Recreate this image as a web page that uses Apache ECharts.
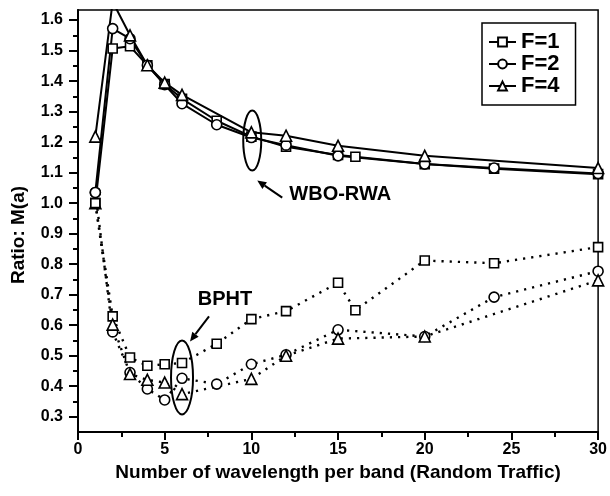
<!DOCTYPE html>
<html lang="en">
  <head>
    <meta charset="UTF-8" />
    <title>Ratio M(a)</title>
    <script src="https://cdn.jsdelivr.net/npm/echarts@6.0.0/dist/echarts.min.js"></script>
    <style>
      html, body { margin: 0; padding: 0; background: #fff; }
    </style>
  </head>
  <body>
    <div id="main" style="width: 610px; height: 496px"></div>

    <script>
      // x positions (wavelengths per band) for each F
      var xF1 = [1, 2, 3, 4, 5, 6, 8, 10, 12, 15, 16, 20, 24, 30]
      var xF2 = [1, 2, 3, 4, 5, 6, 8, 10, 12, 15, 20, 24, 30]
      var xF4 = [1, 2, 3, 4, 5, 6, 10, 12, 15, 20, 30]

      // WBO-RWA (solid)
      var wboF1 = [1.0, 1.507, 1.514, 1.452, 1.39, 1.342, 1.27, 1.218, 1.185, 1.158, 1.152, 1.128, 1.113, 1.095]
      var wboF2 = [1.035, 1.572, 1.539, 1.452, 1.388, 1.326, 1.257, 1.215, 1.19, 1.155, 1.128, 1.115, 1.097]
      var wboF4 = [1.218, 1.66, 1.55, 1.452, 1.395, 1.355, 1.232, 1.221, 1.188, 1.155, 1.115]

      // BPHT (dotted)
      var bphtF1 = [1.0, 0.629, 0.494, 0.467, 0.472, 0.476, 0.539, 0.62, 0.646, 0.739, 0.649, 0.812, 0.803, 0.856]
      var bphtF2 = [1.035, 0.578, 0.445, 0.391, 0.355, 0.426, 0.407, 0.472, 0.503, 0.585, 0.563, 0.692, 0.777]
      var bphtF4 = [1.0, 0.602, 0.44, 0.421, 0.412, 0.374, 0.424, 0.5, 0.556, 0.563, 0.747]

      var legendNames = ["F=1", "F=2", "F=4"]

      var font = "'Liberation Sans', Arial, sans-serif"
      var yMin = 0.25
      var yMax = 1.633
      var gridTop = 10
      var gridBottom = 64
      var k = (496 - gridTop - gridBottom) / (yMax - yMin)

      function pairs(xs, ys) {
        var out = []
        for (let i = 0; i < xs.length; i++) out.push([xs[i], ys[i]])
        return out
      }

      function mkSeries(name, xs, ys, symbol, size, dotted) {
        return {
          name: name,
          type: "line",
          data: pairs(xs, ys),
          symbol: symbol,
          symbolSize: size,
          clip: true,
          z: dotted ? 2 : 3,
          lineStyle: dotted
            ? { color: "#000", width: 2.4, type: [2.2, 6] }
            : { color: "#000", width: 2 },
          itemStyle: { color: "#fff", borderColor: "#000", borderWidth: 1.6 },
          emphasis: { disabled: true },
          animation: false,
        }
      }

      var chart = echarts.init(document.getElementById("main"))

      var option = {
        backgroundColor: "#fff",
        animation: false,
        grid: [
          { left: 78, right: 9, top: gridTop, bottom: gridBottom, show: true, borderColor: "#000", borderWidth: 1.5 },
          // helper grid: only used to draw the y ticks from 0.3 to 1.6
          {
            left: 78,
            right: 9,
            top: gridTop + (yMax - 1.6) * k,
            bottom: gridBottom + (0.3 - yMin) * k,
          },
        ],
        legend: {
          data: legendNames,
          orient: "vertical",
          left: 482,
          top: 23,
          itemWidth: 27,
          itemHeight: 11,
          itemGap: 0,
          padding: [8, 16, 8, 6],
          borderColor: "#000",
          borderWidth: 1.5,
          textStyle: { fontFamily: font, fontWeight: "bold", fontSize: 22, color: "#000" },
        },
        xAxis: [
          {
            gridIndex: 0,
            type: "value",
            min: 0,
            max: 30,
            interval: 5,
            name: "Number of wavelength per band (Random Traffic)",
            nameLocation: "middle",
            nameGap: 28,
            nameTextStyle: { fontFamily: font, fontWeight: "bold", fontSize: 19, color: "#000" },
            axisLine: { lineStyle: { color: "#000", width: 2 } },
            axisTick: { length: 8, lineStyle: { color: "#000", width: 2 } },
            minorTick: { show: true, splitNumber: 2, length: 5, lineStyle: { color: "#000", width: 2 } },
            axisLabel: { margin: 10, fontFamily: font, fontWeight: "bold", fontSize: 16, color: "#000" },
            splitLine: { show: false },
          },
          { gridIndex: 1, type: "value", min: 0, max: 30, show: false },
        ],
        yAxis: [
          {
            gridIndex: 0,
            type: "value",
            min: yMin,
            max: yMax,
            name: "Ratio: M(a)",
            nameLocation: "middle",
            nameGap: 50,
            nameTextStyle: { fontFamily: font, fontWeight: "bold", fontSize: 19, color: "#000", padding: [0, 28, 0, 0] },
            axisLine: { lineStyle: { color: "#000", width: 2 } },
            axisTick: { show: false },
            axisLabel: { show: false },
            splitLine: { show: false },
          },
          {
            gridIndex: 1,
            type: "value",
            min: 0.3,
            max: 1.6,
            interval: 0.1,
            axisLine: { show: false },
            axisTick: { length: 9, lineStyle: { color: "#000", width: 2 } },
            minorTick: { show: true, splitNumber: 2, length: 5, lineStyle: { color: "#000", width: 2 } },
            axisLabel: {
              margin: 15,
              fontFamily: font,
              fontWeight: "bold",
              fontSize: 16,
              color: "#000",
              formatter: function (v) {
                return v.toFixed(1)
              },
            },
            splitLine: { show: false },
          },
        ],
        series: [
          mkSeries("F=1", xF1, wboF1, "rect", 9, false),
          mkSeries("F=2", xF2, wboF2, "circle", 10, false),
          mkSeries("F=4", xF4, wboF4, "triangle", 11, false),
          mkSeries("F=1", xF1, bphtF1, "rect", 9, true),
          mkSeries("F=2", xF2, bphtF2, "circle", 10, true),
          mkSeries("F=4", xF4, bphtF4, "triangle", 11, true),
        ],
      }

      chart.setOption(option)

      // annotations: ellipses, arrows and labels placed from data coordinates
      function px(x, y) {
        return chart.convertToPixel({ xAxisIndex: 0, yAxisIndex: 0 }, [x, y])
      }

      function arrow(from, to) {
        var dx = to[0] - from[0]
        var dy = to[1] - from[1]
        var len = Math.sqrt(dx * dx + dy * dy)
        var ux = dx / len
        var uy = dy / len
        var hl = 9
        var hw = 4
        var bx = to[0] - ux * hl
        var by = to[1] - uy * hl
        return [
          {
            type: "line",
            shape: { x1: from[0], y1: from[1], x2: bx, y2: by },
            style: { stroke: "#000", lineWidth: 2 },
          },
          {
            type: "polygon",
            shape: {
              points: [
                [to[0], to[1]],
                [bx - uy * hw, by + ux * hw],
                [bx + uy * hw, by - ux * hw],
              ],
            },
            style: { fill: "#000" },
          },
        ]
      }

      var c1 = px(10.05, 1.205)
      var c2 = px(6.0, 0.429)
      var textStyle = { fill: "#000", font: "bold 20px " + font }

      var graphics = [
        { type: "ellipse", shape: { cx: c1[0], cy: c1[1], rx: 9, ry: 30 }, style: { fill: "none", stroke: "#000", lineWidth: 2 } },
        { type: "ellipse", shape: { cx: c2[0], cy: c2[1], rx: 11, ry: 37 }, style: { fill: "none", stroke: "#000", lineWidth: 2 } },
        { type: "text", x: c1[0] + 88, y: c1[1] + 54, style: Object.assign({ text: "WBO-RWA", align: "center", verticalAlign: "middle" }, textStyle) },
        { type: "text", x: c2[0] + 43, y: c2[1] - 78, style: Object.assign({ text: "BPHT", align: "center", verticalAlign: "middle" }, textStyle) },
      ]
      graphics = graphics
        .concat(arrow([c1[0] + 30, c1[1] + 57], [c1[0] + 5, c1[1] + 40]))
        .concat(arrow([c2[0] + 27, c2[1] - 61], [c2[0] + 8, c2[1] - 36]))

      chart.setOption({ graphic: graphics })
    </script>
  </body>
</html>
